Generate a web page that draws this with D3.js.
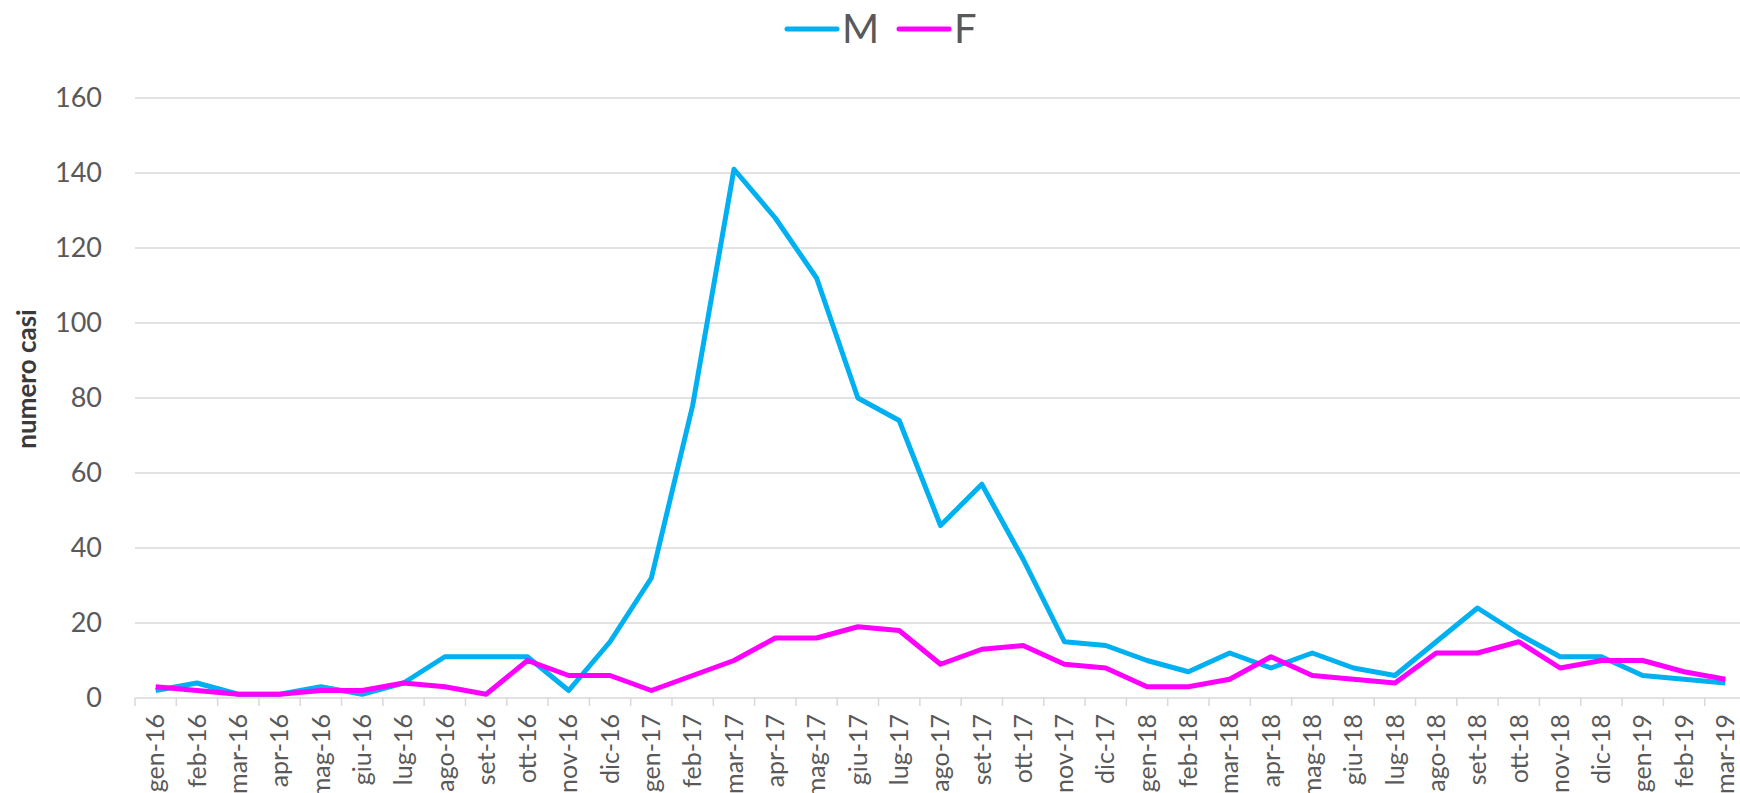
<!DOCTYPE html>
<html>
<head>
<meta charset="utf-8">
<script src="https://cdn.jsdelivr.net/npm/d3@7"></script>
<style>
  body { margin: 0; background: #fff; overflow: hidden; }
  svg { display: block; font-family: Lato, "Open Sans", sans-serif; }
</style>
</head>
<body>
<div class="chart"></div>
<script>
var months = ["gen-16","feb-16","mar-16","apr-16","mag-16","giu-16","lug-16","ago-16","set-16","ott-16","nov-16","dic-16",
  "gen-17","feb-17","mar-17","apr-17","mag-17","giu-17","lug-17","ago-17","set-17","ott-17","nov-17","dic-17",
  "gen-18","feb-18","mar-18","apr-18","mag-18","giu-18","lug-18","ago-18","set-18","ott-18","nov-18","dic-18",
  "gen-19","feb-19","mar-19"];

var maschi = [2,4,1,1,3,1,4,11,11,11,2,15,
  32,78,141,128,112,80,74,46,57,37,15,14,
  10,7,12,8,12,8,6,15,24,17,11,11,
  6,5,4];

var femmine = [3,2,1,1,2,2,4,3,1,10,6,6,
  2,6,10,16,16,19,18,9,13,14,9,8,
  3,3,5,11,6,5,4,12,12,15,8,10,
  10,7,5];

var yTicks = [0,20,40,60,80,100,120,140,160];

var svgWidth = 1740;
var svgHeight = 793;

var margin = { top: 98, left: 135, bottom: 95 };
// axis runs a bit past the right edge, like the cropped original
var plotRight = 1746;
var height = svgHeight - margin.top - margin.bottom;

var svg = d3.select(".chart")
  .append("svg")
  .attr("width", svgWidth)
  .attr("height", svgHeight);

var xScale = d3.scaleBand()
  .domain(months)
  .range([margin.left, plotRight]);

var yScale = d3.scaleLinear()
  .domain([0, 160])
  .range([margin.top + height, margin.top]);

// gridlines
svg.append("g")
  .selectAll("line")
  .data(yTicks)
  .join("line")
    .attr("x1", margin.left)
    .attr("x2", plotRight)
    .attr("y1", d => yScale(d))
    .attr("y2", d => yScale(d))
    .attr("stroke", "#d9d9d9")
    .attr("stroke-width", 1.5);

// y labels
svg.append("g")
  .selectAll("text")
  .data(yTicks)
  .join("text")
    .attr("x", 102)
    .attr("y", d => yScale(d))
    .attr("dy", "0.35em")
    .attr("text-anchor", "end")
    .attr("fill", "#595959")
    .style("font-size", "27px")
    .text(d => d);

// x axis
var bottomAxis = d3.axisBottom(xScale).tickSize(0).tickPadding(0);
var xAxis = svg.append("g")
  .attr("transform", `translate(0, ${yScale(0)})`)
  .call(bottomAxis);
xAxis.select(".domain").remove();

// tick marks at band edges
svg.append("g")
  .selectAll("line")
  .data(months)
  .join("line")
    .attr("x1", d => xScale(d))
    .attr("x2", d => xScale(d))
    .attr("y1", yScale(0))
    .attr("y2", yScale(0) + 8)
    .attr("stroke", "#d9d9d9")
    .attr("stroke-width", 1.5);

xAxis.selectAll("text")
  .attr("transform", "rotate(-90)")
  .attr("text-anchor", "end")
  .attr("x", -16)
  .attr("y", 0)
  .attr("dy", "0.35em")
  .attr("fill", "#595959")
  .style("font-size", "25px")
  .style("font-family", "Lato, 'Open Sans', sans-serif");

// y title
svg.append("text")
  .attr("transform", `translate(27, 379) rotate(-90)`)
  .attr("text-anchor", "middle")
  .attr("dy", "0.35em")
  .attr("fill", "#3a3a3a")
  .style("font-size", "26px")
  .style("font-weight", "bold")
  .text("numero casi");

var series = [
  { name: "M", values: maschi, color: "#00b0f0" },
  { name: "F", values: femmine, color: "#ff00ff" }
];

var line = d3.line()
  .x((d, i) => xScale(months[i]) + xScale.bandwidth() / 2)
  .y(d => yScale(d));

svg.append("g")
  .selectAll("path")
  .data(series)
  .join("path")
    .attr("d", d => line(d.values))
    .attr("fill", "none")
    .attr("stroke", d => d.color)
    .attr("stroke-width", 5)
    .attr("stroke-linejoin", "round");

// legend
var legend = svg.append("g")
  .selectAll("g")
  .data(series)
  .join("g")
    .attr("transform", (d, i) => `translate(${787 + i * 112}, 29)`);

legend.append("line")
  .attr("x1", 0)
  .attr("x2", 50)
  .attr("stroke", d => d.color)
  .attr("stroke-width", 5)
  .attr("stroke-linecap", "round");

legend.append("text")
  .attr("x", 55)
  .attr("dy", "0.36em")
  .attr("fill", "#595959")
  .style("font-size", "40px")
  .text(d => d.name);
</script>
</body>
</html>
